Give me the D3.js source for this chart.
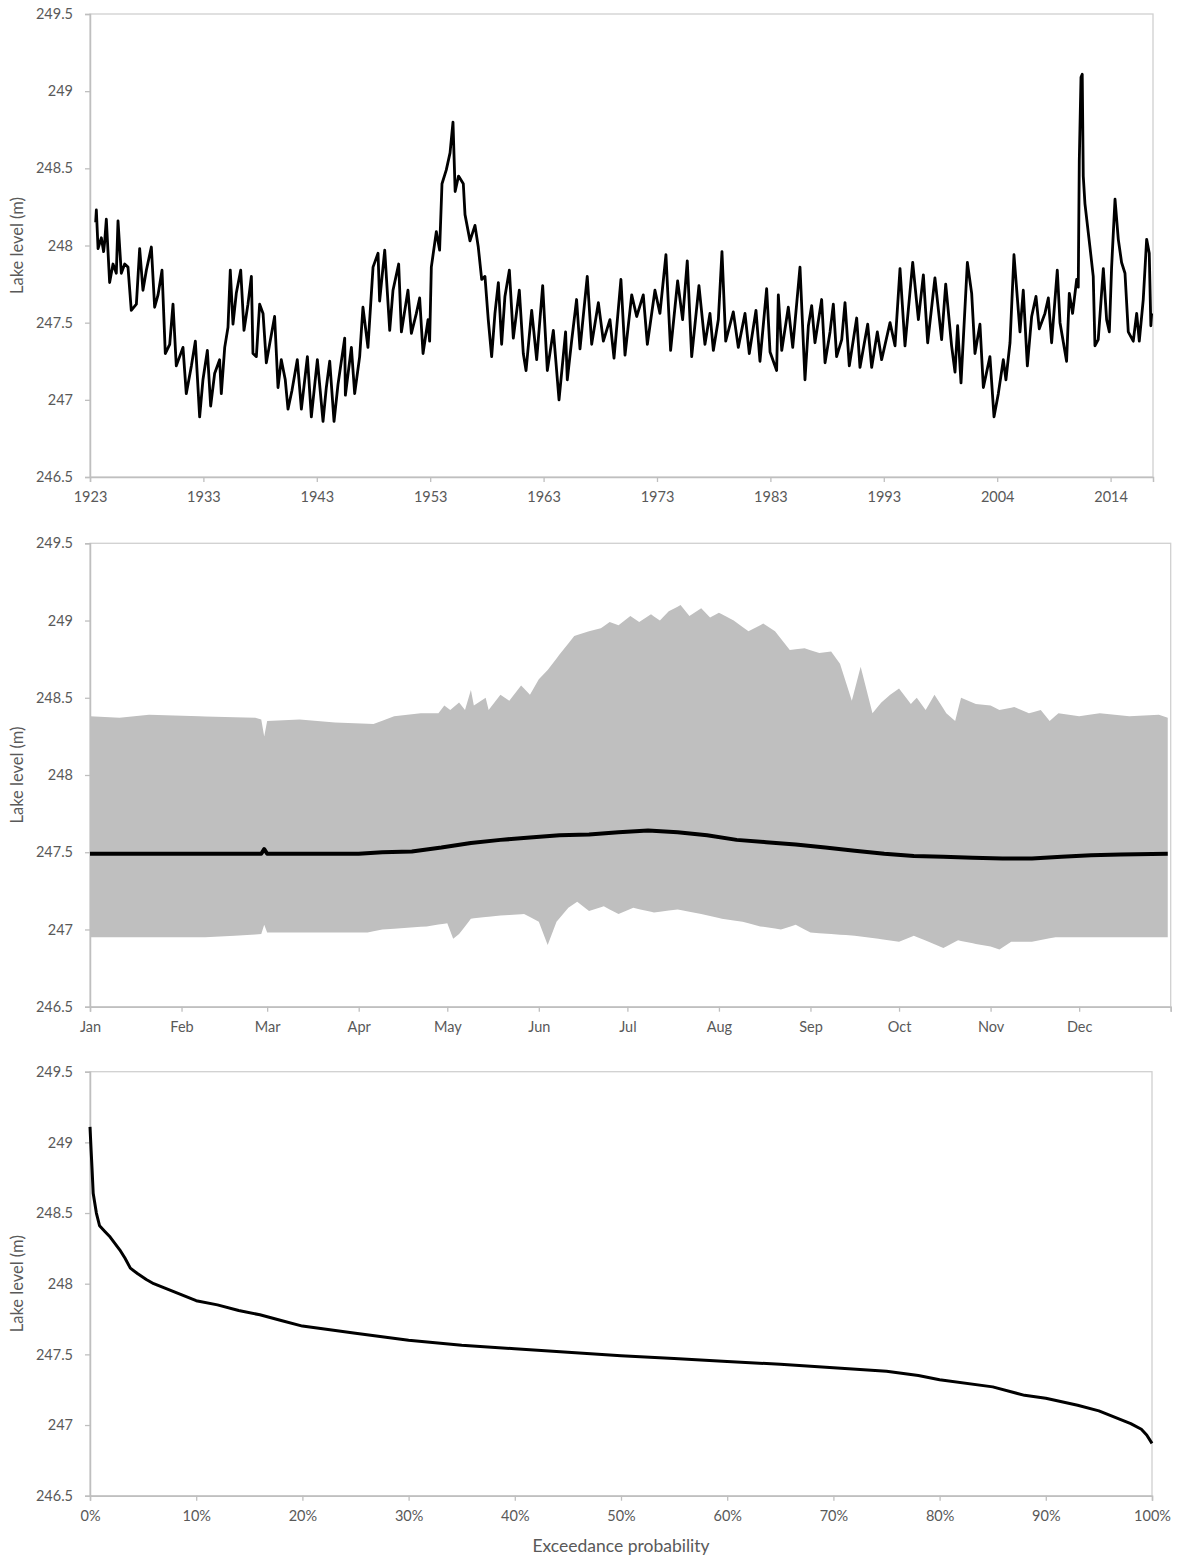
<!DOCTYPE html>
<html><head><meta charset="utf-8">
<script src="https://cdn.jsdelivr.net/npm/d3@7"></script>
<style>
html,body{margin:0;padding:0;background:#fff;}
svg text{font-family:Lato,"Open Sans",sans-serif;fill:#595959;}
</style></head>
<body>
<svg id="chart" width="1177" height="1559"></svg>
<script>
// ---------- DATA ----------
const levelTicks = [246.5, 247, 247.5, 248, 248.5, 249, 249.5];
const yearTickLabels = ["1923","1933","1943","1953","1963","1973","1983","1993","2004","2014"];

const tsYears = [
1923.50,1923.56,1923.71,1924.00,1924.20,1924.29,1924.44,1924.73,1925.03,1925.32,1925.47,1925.76,1926.06,1926.35,1926.64,1927.09,1927.38,1927.67,1927.97,1928.41,1928.70,1929.00,1929.35,1929.64,1930.03,1930.32,1930.61,1931.20,1931.49,1931.94,1932.29,1932.67,1932.96,1933.35,1933.64,1933.99,1934.43,1934.58,1934.88,1935.17,1935.37,1935.61,1935.90,1936.29,1936.58,1936.93,1937.23,1937.37,1937.67,1937.96,1938.26,1938.55,1938.84,1939.28,1939.58,1939.87,1940.22,1940.46,1940.81,1941.28,1941.64,1942.17,1942.52,1943.05,1943.55,1943.84,1944.14,1944.52,1944.87,1945.46,1945.52,1946.05,1946.34,1946.78,1947.07,1947.51,1947.96,1948.40,1948.54,1948.99,1949.43,1949.72,1950.22,1950.46,1951.04,1951.34,1951.78,1952.07,1952.37,1952.81,1952.95,1953.10,1953.54,1953.83,1954.04,1954.42,1954.75,1955.01,1955.20,1955.50,1955.92,1956.07,1956.51,1956.95,1957.24,1957.54,1957.83,1958.12,1958.42,1958.71,1959.01,1959.30,1959.59,1959.98,1960.33,1960.86,1961.21,1961.45,1961.95,1962.39,1962.92,1963.33,1963.86,1964.36,1964.94,1965.09,1965.47,1965.91,1966.21,1966.85,1967.24,1967.83,1968.27,1968.85,1969.21,1969.82,1970.18,1970.77,1971.21,1971.79,1972.15,1972.82,1973.26,1973.79,1974.20,1974.82,1975.26,1975.67,1976.06,1976.70,1977.23,1977.67,1977.97,1978.41,1978.73,1979.06,1979.73,1980.17,1980.76,1981.14,1981.73,1982.08,1982.67,1982.97,1983.55,1983.70,1984.00,1984.58,1984.97,1985.61,1986.05,1986.35,1986.64,1986.93,1987.52,1987.82,1988.26,1988.55,1988.84,1989.29,1989.58,1989.96,1990.61,1990.90,1991.58,1991.93,1992.43,1992.81,1993.55,1993.99,1994.43,1994.87,1995.55,1996.05,1996.49,1996.87,1997.51,1998.10,1998.46,1998.98,1999.28,1999.51,1999.81,2000.37,2000.75,2001.04,2001.48,2001.78,2002.36,2002.72,2003.10,2003.54,2003.77,2004.13,2004.48,2005.01,2005.30,2005.66,2006.04,2006.42,2006.71,2007.21,2007.51,2007.80,2008.30,2008.54,2009.12,2009.36,2009.65,2010.01,2010.15,2010.24,2010.39,2010.50,2010.59,2010.74,2011.18,2011.47,2011.62,2011.91,2012.36,2012.65,2012.89,2013.09,2013.39,2013.68,2013.97,2014.27,2014.56,2015.00,2015.30,2015.53,2015.88,2016.18,2016.41,2016.55,2016.62];
const tsLevels = [
248.15,248.23,247.98,248.05,247.96,248.02,248.17,247.76,247.88,247.82,248.16,247.82,247.88,247.86,247.58,247.62,247.98,247.71,247.84,247.99,247.60,247.68,247.84,247.30,247.36,247.62,247.22,247.34,247.04,247.22,247.38,246.89,247.13,247.32,246.96,247.17,247.26,247.04,247.34,247.47,247.84,247.49,247.69,247.84,247.45,247.62,247.80,247.30,247.28,247.62,247.56,247.24,247.36,247.54,247.08,247.26,247.13,246.94,247.06,247.26,246.94,247.28,246.89,247.26,246.86,247.08,247.25,246.86,247.10,247.40,247.03,247.34,247.04,247.28,247.60,247.34,247.86,247.95,247.64,247.97,247.45,247.71,247.88,247.44,247.71,247.43,247.56,247.66,247.30,247.52,247.38,247.86,248.09,247.97,248.40,248.49,248.60,248.80,248.35,248.45,248.40,248.20,248.03,248.13,247.99,247.78,247.80,247.52,247.28,247.56,247.76,247.36,247.67,247.84,247.40,247.71,247.30,247.19,247.58,247.26,247.74,247.19,247.45,247.00,247.44,247.13,247.38,247.65,247.33,247.80,247.36,247.63,247.38,247.52,247.27,247.78,247.29,247.68,247.54,247.68,247.36,247.71,247.56,247.94,247.32,247.77,247.52,247.90,247.28,247.74,247.36,247.56,247.32,247.52,247.96,247.38,247.57,247.34,247.56,247.30,247.58,247.25,247.72,247.31,247.19,247.68,247.32,247.60,247.34,247.86,247.13,247.48,247.61,247.37,247.65,247.24,247.44,247.62,247.28,247.39,247.63,247.22,247.53,247.21,247.49,247.21,247.44,247.26,247.50,247.35,247.85,247.35,247.89,247.52,247.81,247.37,247.79,247.39,247.75,247.35,247.18,247.48,247.11,247.89,247.69,247.30,247.49,247.08,247.28,246.89,247.04,247.26,247.13,247.37,247.94,247.44,247.71,247.22,247.54,247.67,247.46,247.56,247.66,247.37,247.84,247.50,247.25,247.69,247.56,247.78,247.73,248.55,249.09,249.11,248.45,248.27,247.99,247.80,247.35,247.39,247.85,247.52,247.44,247.86,248.30,248.04,247.89,247.82,247.44,247.38,247.56,247.38,247.65,248.04,247.95,247.48,247.56];

const monthLabels = ["Jan","Feb","Mar","Apr","May","Jun","Jul","Aug","Sep","Oct","Nov","Dec"];
const monthStartDays = [1,32,61,92,122,153,183,214,245,275,306,336,367];

const maxDays = [1,11,21,38,57,59,60,61,72,84,97,104,113,119,121,123,126,128,130,131,135,136,140,143,147,150,153,156,160,165,170,174,177,180,184,187,191,194,197,201,204,208,211,214,219,224,229,233,238,243,248,252,255,257,259,262,264,266,269,272,275,279,281,284,287,291,294,296,301,306,309,314,319,323,326,329,336,343,353,363,366];
const maxLevels = [248.38,248.37,248.39,248.38,248.37,248.36,248.25,248.35,248.36,248.34,248.33,248.38,248.40,248.40,248.45,248.42,248.47,248.42,248.55,248.45,248.50,248.42,248.52,248.48,248.58,248.52,248.62,248.68,248.78,248.90,248.93,248.95,248.99,248.97,249.03,248.99,249.04,249.00,249.06,249.10,249.03,249.08,249.02,249.05,249.00,248.93,248.98,248.93,248.81,248.82,248.79,248.80,248.72,248.60,248.48,248.70,248.55,248.40,248.47,248.52,248.56,248.46,248.50,248.42,248.52,248.40,248.35,248.50,248.46,248.45,248.42,248.44,248.40,248.42,248.35,248.40,248.38,248.40,248.38,248.39,248.37];

const minDays = [1,40,50,59,60,61,95,100,115,122,124,126,130,140,148,153,156,159,163,166,170,175,180,185,192,200,208,215,222,228,235,240,245,252,260,268,275,280,285,290,295,300,306,309,313,320,328,340,366];
const minLevels = [246.95,246.95,246.96,246.97,247.03,246.98,246.98,247.00,247.02,247.04,246.94,246.97,247.07,247.09,247.10,247.05,246.90,247.05,247.14,247.18,247.12,247.15,247.10,247.14,247.11,247.13,247.10,247.07,247.05,247.02,247.00,247.03,246.98,246.97,246.96,246.94,246.92,246.96,246.92,246.88,246.93,246.91,246.89,246.87,246.92,246.92,246.95,246.95,246.95];

const medDays = [1,59,60,61,85,92,100,110,120,130,140,150,160,170,180,190,200,210,220,230,240,250,260,270,280,290,300,310,320,330,340,350,366];
const medLevels = [247.49,247.49,247.52,247.49,247.49,247.49,247.50,247.505,247.53,247.56,247.58,247.595,247.61,247.615,247.63,247.64,247.63,247.61,247.58,247.565,247.55,247.53,247.51,247.49,247.475,247.47,247.465,247.46,247.46,247.47,247.48,247.485,247.49];

const exceedProb = [0,0.001,0.002,0.003,0.006,0.009,0.014,0.019,0.028,0.033,0.038,0.045,0.053,0.06,0.07,0.08,0.09,0.10,0.12,0.14,0.16,0.18,0.20,0.25,0.30,0.35,0.40,0.45,0.50,0.55,0.60,0.65,0.70,0.75,0.78,0.80,0.85,0.88,0.90,0.93,0.95,0.97,0.98,0.99,0.995,1.0];
const exceedLevels = [249.11,248.95,248.80,248.64,248.50,248.41,248.37,248.33,248.24,248.18,248.11,248.07,248.03,248.00,247.97,247.94,247.91,247.88,247.85,247.81,247.78,247.74,247.70,247.65,247.60,247.565,247.54,247.515,247.49,247.47,247.45,247.43,247.405,247.38,247.35,247.32,247.27,247.21,247.19,247.14,247.10,247.04,247.01,246.97,246.93,246.87];
const probTicks = [0,0.1,0.2,0.3,0.4,0.5,0.6,0.7,0.8,0.9,1.0];

// ---------- DRAW ----------
const svg = d3.select("#chart");
const AX = "#bfbfbf";
const FS = 14.5;

function panel(cfg){
  const g = svg.append("g");
  const y = d3.scaleLinear().domain([246.5, 249.5]).range([cfg.bottom, cfg.top]);
  const x = d3.scaleLinear().domain(cfg.xDomain).range([cfg.left, cfg.right]);
  g.append("rect").attr("x", cfg.left).attr("y", cfg.top)
    .attr("width", cfg.right - cfg.left).attr("height", cfg.bottom - cfg.top)
    .attr("fill","none").attr("stroke", "#d0d0d0").attr("stroke-width",1.3);
  const ya = g.append("g").attr("transform",`translate(${cfg.left},0)`)
    .call(d3.axisLeft(y).tickValues(levelTicks).tickSize(5).tickPadding(12).tickFormat(d3.format("")));
  ya.select(".domain").attr("stroke", AX).attr("stroke-width",1.5);
  ya.selectAll(".tick line").attr("stroke", AX).attr("stroke-width",1.3);
  ya.selectAll(".tick text").attr("font-size", FS).style("font-family","Lato, sans-serif").attr("fill","#595959");
  g.append("text").attr("transform",`translate(23,${(cfg.top+cfg.bottom)/2}) rotate(-90)`)
    .attr("text-anchor","middle").attr("font-size", 16.5).text("Lake level (m)");
  return {g, x, y};
}

function styleX(ax){
  ax.select(".domain").attr("stroke", AX).attr("stroke-width",1.5);
  ax.selectAll(".tick line").attr("stroke", AX).attr("stroke-width",1.3);
  ax.selectAll(".tick text").attr("font-size", FS).style("font-family","Lato, sans-serif").attr("fill","#595959");
}

// Panel 1: time series
{
  const p = panel({left:90,right:1153,top:14,bottom:477,xDomain:[1923, 2016.74]});
  const tickPos = yearTickLabels.map((_,i)=>1923 + i*10);
  const ax = p.g.append("g").attr("transform","translate(0,477)")
    .call(d3.axisBottom(p.x).tickValues(tickPos).tickSize(5).tickPadding(10)
      .tickFormat((d,i)=>yearTickLabels[i]));
  styleX(ax);
  const line = d3.line().x((d,i)=>p.x(tsYears[i])).y(d=>p.y(d));
  p.g.append("path").datum(tsLevels).attr("d", line)
    .attr("fill","none").attr("stroke","#000").attr("stroke-width",2.8).attr("stroke-linejoin","round");
}

// Panel 2: seasonal envelope
{
  const p = panel({left:90,right:1170.7,top:543.3,bottom:1006.7,xDomain:[1, 367]});
  const ax = p.g.append("g").attr("transform","translate(0,1006.7)")
    .call(d3.axisBottom(p.x).tickValues(monthStartDays).tickSize(5).tickPadding(10)
      .tickFormat((d,i)=>monthLabels[i] || ""));
  styleX(ax);
  const allDays = Array.from(new Set(maxDays.concat(minDays))).sort((a,b)=>a-b);
  const interpMax = d3.scaleLinear().domain(maxDays).range(maxLevels);
  const interpMin = d3.scaleLinear().domain(minDays).range(minLevels);
  const area = d3.area().x(d=>p.x(d)).y0(d=>p.y(interpMin(d))).y1(d=>p.y(interpMax(d)));
  p.g.append("path").datum(allDays).attr("d", area).attr("fill","#bfbfbf");
  const line = d3.line().x((d,i)=>p.x(medDays[i])).y(d=>p.y(d));
  p.g.append("path").datum(medLevels).attr("d", line)
    .attr("fill","none").attr("stroke","#000").attr("stroke-width",4).attr("stroke-linejoin","round");
}

// Panel 3: exceedance
{
  const p = panel({left:90,right:1152,top:1071.7,bottom:1495.7,xDomain:[0,1]});
  const ax = p.g.append("g").attr("transform","translate(0,1495.7)")
    .call(d3.axisBottom(p.x).tickValues(probTicks).tickSize(5).tickPadding(10)
      .tickFormat(d3.format(".0%")));
  styleX(ax);
  const line = d3.line().x((d,i)=>p.x(exceedProb[i])).y(d=>p.y(d));
  p.g.append("path").datum(exceedLevels).attr("d", line)
    .attr("fill","none").attr("stroke","#000").attr("stroke-width",3).attr("stroke-linejoin","round");
  p.g.append("text").attr("x",(90+1152)/2).attr("y",1552).attr("text-anchor","middle")
    .attr("font-size",17.5).text("Exceedance probability");
}
</script>
</body></html>
